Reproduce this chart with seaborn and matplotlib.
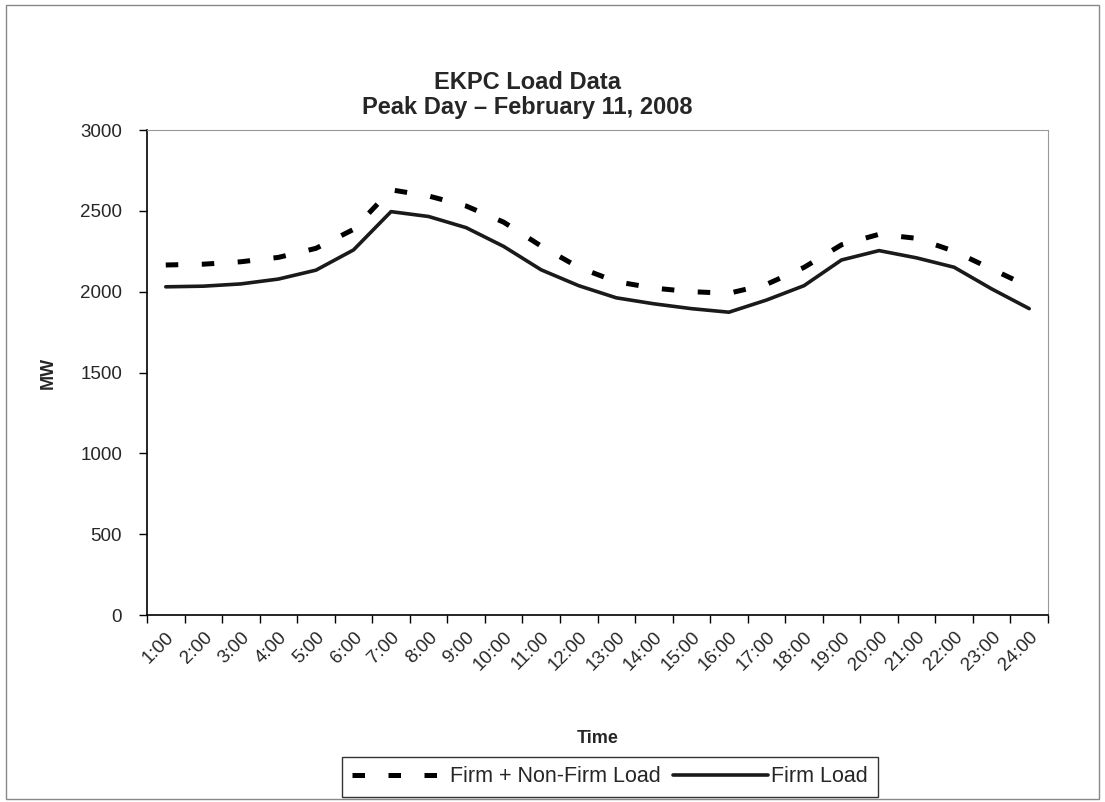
import matplotlib
matplotlib.use("Agg")
import matplotlib.pyplot as plt
import matplotlib.patches as mpatches
from matplotlib.ticker import FixedLocator
import seaborn as sns
import pandas as pd

# hourly load, MW
hours = ["1:00", "2:00", "3:00", "4:00", "5:00", "6:00", "7:00", "8:00",
         "9:00", "10:00", "11:00", "12:00", "13:00", "14:00", "15:00", "16:00",
         "17:00", "18:00", "19:00", "20:00", "21:00", "22:00", "23:00", "24:00"]
firm_nonfirm = [2165, 2170, 2185, 2212, 2268, 2385, 2630, 2592, 2530, 2430, 2282, 2150,
                2062, 2022, 2000, 1990, 2045, 2150, 2290, 2355, 2330, 2250, 2140, 2030]
firm = [2030, 2034, 2048, 2078, 2133, 2258, 2495, 2465, 2396, 2280, 2135, 2037,
        1962, 1925, 1895, 1873, 1948, 2037, 2196, 2254, 2209, 2151, 2017, 1895]

sns.set_theme(style="white")
plt.rcParams["font.family"] = ["Liberation Sans", "DejaVu Sans"]

df = pd.DataFrame({"Time": hours, "total": firm_nonfirm, "firm": firm})

fig = plt.figure(figsize=(11.05, 8.02), dpi=100)
ax = fig.add_axes([147 / 1105, 1 - 615 / 802, (1048 - 147) / 1105, (615 - 130) / 802])

sns.lineplot(data=df, x="Time", y="total", ax=ax, color="black", lw=3.6,
             sort=False, label="Firm + Non-Firm Load")
sns.lineplot(data=df, x="Time", y="firm", ax=ax, color="#1a1a1a", lw=2.6,
             sort=False, label="Firm Load")
ax.lines[0].set_dashes((2.5, 4.7))
ax.lines[0].set_dash_capstyle("butt")

ax.set_xlim(-0.5, len(hours) - 0.5)
ax.set_ylim(0, 3000)
ax.set_yticks(range(0, 3001, 500))

# Excel style: category labels centred, tick marks between categories
ax.set_xticks(range(len(hours)))
ax.set_xticklabels(hours, rotation=45, ha="right", va="top", rotation_mode="anchor")
ax.xaxis.set_minor_locator(FixedLocator([i - 0.5 for i in range(len(hours) + 1)]))
ax.tick_params(axis="x", which="major", length=0, pad=10, labelsize=13.5)
ax.tick_params(axis="x", which="minor", length=6, width=1, color="black", direction="out", bottom=True)
ax.tick_params(axis="y", length=6, width=1, color="black", direction="out", left=True,
               pad=12, labelsize=13.5)

for s in ["left", "bottom"]:
    ax.spines[s].set_color("black")
    ax.spines[s].set_linewidth(1.2)
for s in ["top", "right"]:
    ax.spines[s].set_color("#999999")
    ax.spines[s].set_linewidth(0.8)

ax.set_xlabel("Time", fontsize=13, fontweight="bold", labelpad=40)
ax.set_ylabel("MW", fontsize=13, fontweight="bold", labelpad=17)

fig.text(527 / 1105, 1 - 95 / 802, "EKPC Load Data\nPeak Day \u2013 February 11, 2008",
         ha="center", va="center", fontsize=17, fontweight="bold", linespacing=1.12)

ax.get_legend().remove()
handles, labels = ax.get_legend_handles_labels()
leg = fig.legend(handles, labels, loc="center", bbox_to_anchor=(610 / 1105, 1 - 777 / 802),
                 ncol=2, fontsize=15.5, frameon=True, fancybox=False, edgecolor="black",
                 handlelength=4.4, columnspacing=0.6, handletextpad=0.15, borderpad=0.45)
leg.get_frame().set_linewidth(1.0)

fig.patches.append(mpatches.Rectangle((0.005, 0.004), 0.99, 0.99, transform=fig.transFigure,
                                      fill=False, edgecolor="#888888", lw=1))

fig.savefig("out.png", dpi=100, facecolor="white")
